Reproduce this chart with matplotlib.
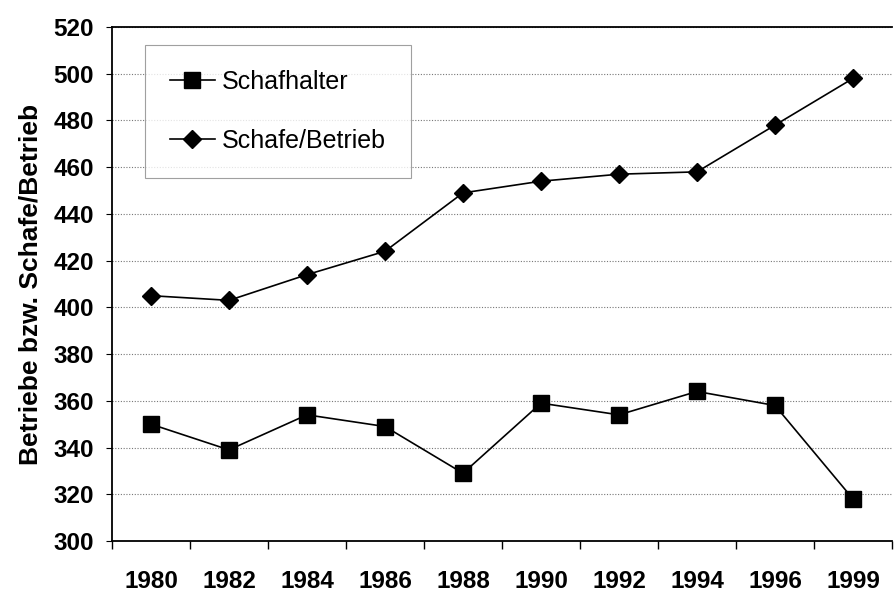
import matplotlib
matplotlib.use("Agg")
import matplotlib.pyplot as plt
import numpy as np

plt.rcParams.update({
    "font.family": ["Liberation Sans", "DejaVu Sans"],
})

years = ["1980", "1982", "1984", "1986", "1988", "1990", "1992", "1994", "1996", "1999"]
schafhalter = [350, 339, 354, 349, 329, 359, 354, 364, 358, 318]
schafe_betrieb = [405, 403, 414, 424, 449, 454, 457, 458, 478, 498]

fig = plt.figure(figsize=(8.94, 5.94), dpi=100)
ax = fig.add_axes([112 / 894, 1 - 541 / 594, (892 - 112) / 894, (541 - 27) / 594])

x = np.arange(len(years))
ax.plot(x, schafhalter, color="black", lw=1.2, marker="s", ms=12, label="Schafhalter")
ax.plot(x, schafe_betrieb, color="black", lw=1.2, marker="D", ms=9, label="Schafe/Betrieb")

ax.set_xlim(-0.5, len(years) - 0.5)
ax.set_ylim(300, 520)
ax.set_yticks(np.arange(300, 521, 20))
ax.set_xticks(np.arange(-0.5, len(years), 1.0))
ax.set_xticklabels([])
ax.set_xticks(x, minor=True)
ax.set_xticklabels(years, minor=True, fontsize=17.5, fontweight="bold")
ax.tick_params(axis="x", which="minor", length=0, pad=21)
ax.tick_params(axis="x", which="major", length=6, width=1, direction="out")
ax.tick_params(axis="y", length=4, width=0.8, labelsize=17.5, pad=9)
for lbl in ax.get_yticklabels():
    lbl.set_fontweight("bold")

ax.grid(True, axis="y", color="#777777", ls=(0, (1, 1.5)), lw=0.8)
ax.set_axisbelow(True)
for s in ["left", "bottom", "top"]:
    ax.spines[s].set_linewidth(1.3)
ax.spines["right"].set_visible(False)

ax.set_ylabel("Betriebe bzw. Schafe/Betrieb", fontsize=19, fontweight="bold", labelpad=8)

leg = ax.legend(loc="upper left", bbox_to_anchor=(0.042, 0.965), fontsize=18,
                frameon=True, fancybox=False, edgecolor="#888888",
                borderpad=1.0, labelspacing=1.4, handlelength=1.8,
                handletextpad=0.3, borderaxespad=0)
leg.get_frame().set_linewidth(0.8)

fig.savefig("out.png", dpi=100)
